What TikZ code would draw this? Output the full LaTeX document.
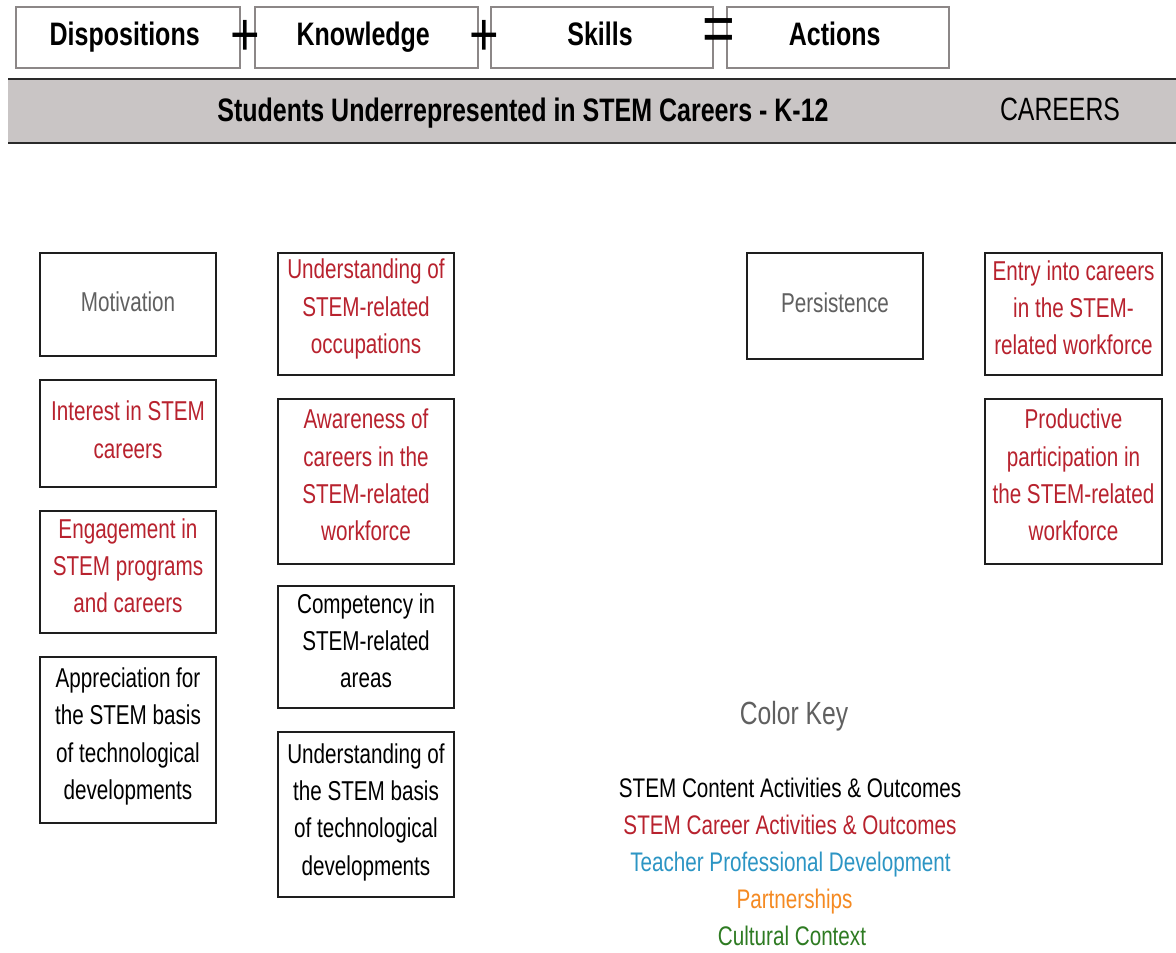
\documentclass[tikz,border=0pt]{standalone}
\usepackage{fontspec}
\setmainfont{Liberation Sans}
\usepackage{graphicx}
\definecolor{boxline}{HTML}{1E1E1E}
\definecolor{topline}{HTML}{8C8787}
\definecolor{band}{HTML}{C9C5C5}
\definecolor{bandline}{HTML}{2A2A2A}
\definecolor{redtxt}{HTML}{B8222E}
\definecolor{graytxt}{HTML}{606060}
\definecolor{bluetxt}{HTML}{2C95C4}
\definecolor{orangetxt}{HTML}{F58A22}
\definecolor{greentxt}{HTML}{2E7B22}
\newcommand\vsc[1]{\scalebox{1}[1.3]{\vphantom{Kg}#1}}
\newcommand\mlines[2][3pt]{\raisebox{#1}[\height][\depth]{\scalebox{1}[1.32]{\begin{tabular}{@{}c@{}}#2\end{tabular}}}}
\tikzset{
  bx/.style={draw=boxline, line width=1.5pt, rectangle, inner sep=0pt,
             minimum width=132pt, font=\fontsize{15.5pt}{21.2pt}\selectfont},
  topbx/.style={draw=topline, line width=1.1pt, rectangle, inner sep=0pt,
             minimum height=45.75pt, font=\bfseries\fontsize{18.75pt}{22pt}\selectfont},
  opsym/.style={inner sep=0pt, font=\fontsize{38pt}{40pt}\selectfont},
  keytxt/.style={inner sep=0pt, font=\fontsize{15.5pt}{21.2pt}\selectfont}
}
\begin{document}
\begin{tikzpicture}[x=0.75pt,y=-0.75pt]
\useasboundingbox (0,0) rectangle (1176,952);
\fill[white] (0,0) rectangle (1176,952);

% top row
\node[topbx, minimum width=168pt]   (disp) at (128,37.5)   {\hspace*{-5pt}\vsc{Dispositions}};
\node[topbx, minimum width=167.25pt](know) at (366.5,37.5) {\hspace*{-5pt}\vsc{Knowledge}};
\node[topbx, minimum width=166.5pt] (skil) at (602,37.5)   {\hspace*{-3pt}\vsc{Skills}};
\node[topbx, minimum width=166.5pt] (acti) at (838,37.5)   {\hspace*{-5pt}\vsc{Actions}};
\node[opsym] (plus1) at (245,38) {\scalebox{1}[1.2]{+}};
\node[opsym] (plus2) at (484,38) {\scalebox{1}[1.2]{+}};
\node[opsym, font=\fontsize{42pt}{44pt}\selectfont] (eq) at (719,35.5) {\scalebox{1}[1.2]{=}};

% band
\fill[band] (8,79) rectangle (1176,143);
\draw[bandline, line width=2pt] (8,79) -- (1176,79);
\draw[bandline, line width=2pt] (8,143) -- (1176,143);
\node[inner sep=0pt, font=\bfseries\fontsize{18.75pt}{22pt}\selectfont] (title) at (523,113) {\vsc{Students Underrepresented in STEM Careers - K-12}};
\node[inner sep=0pt, font=\fontsize{18.6pt}{22pt}\selectfont] (careers) at (1060,113) {\vsc{CAREERS}};

% column 1
\node[bx, minimum height=77.25pt, text=graytxt] (mot) at (128,304.5) {\mlines[0pt]{Motivation}};
\node[bx, minimum height=80.25pt, text=redtxt] (int) at (128,433.5) {\mlines[1pt]{Interest in STEM\\careers}};
\node[bx, minimum height=91.5pt, text=redtxt] (eng) at (128,572) {\mlines{Engagement in\\STEM programs\\and careers}};
\node[bx, minimum height=124.5pt] (app) at (128,740) {\mlines{Appreciation for\\the STEM basis\\of technological\\developments}};

% column 2
\node[bx, minimum height=91.5pt, text=redtxt] (uocc) at (366,314) {\mlines[4pt]{Understanding of\\STEM-related\\occupations}};
\node[bx, minimum height=123.75pt, text=redtxt] (aware) at (366,481.5) {\mlines{Awareness of\\careers in the\\STEM-related\\workforce}};
\node[bx, minimum height=91.5pt] (comp) at (366,647) {\mlines{Competency in\\STEM-related\\areas}};
\node[bx, minimum height=123.75pt] (ubas) at (366,814.5) {\mlines[2pt]{Understanding of\\the STEM basis\\of technological\\developments}};

% persistence
\node[bx, minimum height=79.5pt, text=graytxt] (pers) at (835,306) {\mlines[0.5pt]{Persistence}};

% right column
\node[bx, minimum width=132.75pt, minimum height=91.5pt, text=redtxt] (entry) at (1073.5,314) {\mlines{Entry into careers\\in the STEM-\\related workforce}};
\node[bx, minimum width=132.75pt, minimum height=123.75pt, text=redtxt] (prod) at (1073.5,481.5) {\mlines{Productive\\participation in\\the STEM-related\\workforce}};

% color key
\node[inner sep=0pt, text=graytxt, font=\fontsize{18.5pt}{22pt}\selectfont] (ckey) at (794,716) {\vsc{Color Key}};
\node[keytxt] (k1) at (790,791) {\vsc{STEM Content Activities \& Outcomes}};
\node[keytxt, text=redtxt] (k2) at (790,828) {\vsc{STEM Career Activities \& Outcomes}};
\node[keytxt, text=bluetxt] (k3) at (790.5,865) {\vsc{Teacher Professional Development}};
\node[keytxt, text=orangetxt] (k4) at (794.5,902) {\vsc{Partnerships}};
\node[keytxt, text=greentxt] (k5) at (792,939) {\vsc{Cultural Context}};
\end{tikzpicture}
\end{document}
